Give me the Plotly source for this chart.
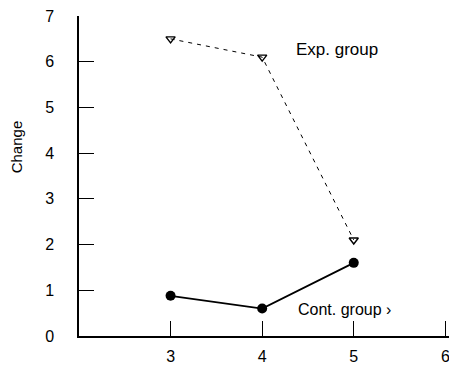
import plotly.graph_objects as go

weeks = [3, 4, 5]
exp_group = [6.5, 6.1, 2.1]
cont_group = [0.88, 0.6, 1.6]
x_ticks = [3, 4, 5, 6]
y_ticks = [0, 1, 2, 3, 4, 5, 6, 7]

fig = go.Figure()
fig.add_trace(go.Scatter(
    x=weeks, y=exp_group, mode="lines+markers",
    line=dict(color="black", width=1, dash="4px,5px"),
    marker=dict(symbol="triangle-down-open", size=8, color="black", line=dict(width=1.4)),
    cliponaxis=False, showlegend=False))
fig.add_trace(go.Scatter(
    x=weeks, y=cont_group, mode="lines+markers",
    line=dict(color="black", width=1.8),
    marker=dict(symbol="circle", size=10, color="black"),
    cliponaxis=False, showlegend=False))

fig.add_annotation(x=4.82, y=6.27, text="Exp. group", showarrow=False,
                   font=dict(family="Liberation Sans", size=17, color="black"))
fig.add_annotation(x=4.9, y=0.57, text="Cont. group ›", showarrow=False,
                   font=dict(family="Liberation Sans", size=16, color="black"))
fig.add_annotation(xref="paper", yref="paper", x=-0.17, y=0.59, text="Change",
                   textangle=-90, showarrow=False, xanchor="center", yanchor="middle",
                   font=dict(family="Liberation Sans", size=15, color="black"))

fig.update_layout(
    width=449, height=371,
    margin=dict(l=79, r=0, t=16, b=35, autoexpand=False),
    plot_bgcolor="white", paper_bgcolor="white",
    font=dict(family="Liberation Sans", size=16, color="black"),
)
fig.update_xaxes(range=[2, 6.04], tickvals=x_ticks, ticks="inside", ticklen=15,
                 tickcolor="black", showline=True, linecolor="black", linewidth=1.5,
                 showgrid=False, zeroline=False, ticklabelstandoff=5, automargin=False,
                 ticklabeloverflow="allow")
fig.update_yaxes(range=[0, 7], tickvals=y_ticks, ticks="inside", ticklen=15,
                 tickcolor="black", showline=True, linecolor="black", linewidth=1.5,
                 showgrid=False, zeroline=False, ticklabelstandoff=20, automargin=False,
                 ticklabeloverflow="allow")

fig.write_html("out.html", config={"displayModeBar": False},
               post_script="document.body.style.margin='0';document.body.style.overflow='hidden';")
